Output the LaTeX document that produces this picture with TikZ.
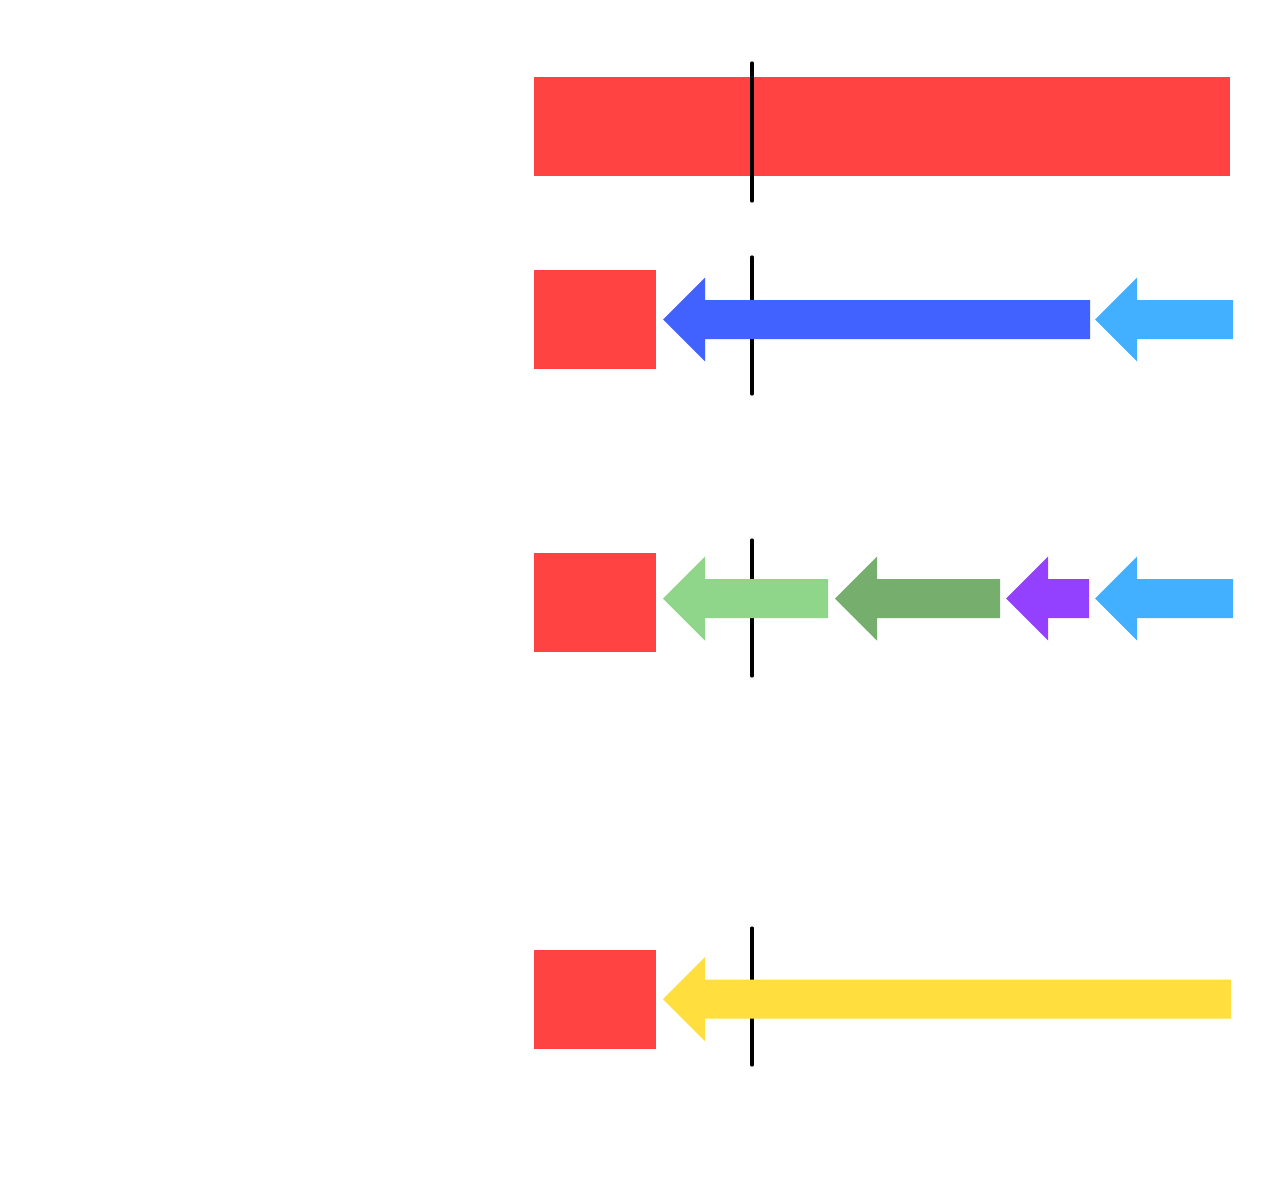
\documentclass[tikz,border=0pt]{standalone}
\definecolor{cred}{HTML}{FF4343}
\definecolor{cblue}{HTML}{4262FF}
\definecolor{csky}{HTML}{42B0FF}
\definecolor{clgreen}{HTML}{90D68A}
\definecolor{cdgreen}{HTML}{76AE6E}
\definecolor{cpurple}{HTML}{9340FF}
\definecolor{cyellow}{HTML}{FFDE3E}
\newcommand{\myarrow}[4]{% color, tip x, end x, center y
  \fill[#1] (#2,#4) -- ({#2+42},{#4-42}) -- ({#2+42},{#4-19.5}) -- (#3,{#4-19.5})
    -- (#3,{#4+19.5}) -- ({#2+42},{#4+19.5}) -- ({#2+42},{#4+42}) -- cycle;}
\tikzset{
  block/.style={fill=cred, draw=none},
  marker/.style={line width=3.2pt, line cap=round, black},
}
\begin{document}
\begin{tikzpicture}[x=1pt,y=-1pt]
\useasboundingbox (0,0) rectangle (1280,1200);
\fill[white] (0,0) rectangle (1280,1200);
% red blocks
\fill[block] (534,77) rectangle (1230,176);
\fill[block] (534,270) rectangle (656,369);
\fill[block] (534,553) rectangle (656,652);
\fill[block] (534,950) rectangle (656,1049);
% vertical markers
\coordinate (m1a) at (752,63); \coordinate (m1b) at (752,201);
\coordinate (m2a) at (752,257); \coordinate (m2b) at (752,394);
\coordinate (m3a) at (752,540); \coordinate (m3b) at (752,676);
\coordinate (m4a) at (752,928); \coordinate (m4b) at (752,1065);
\draw[marker] (m1a) -- (m1b);
\draw[marker] (m2a) -- (m2b);
\draw[marker] (m3a) -- (m3b);
\draw[marker] (m4a) -- (m4b);
% row 2 arrows
\myarrow{cblue}{663}{1090}{319.5}
\myarrow{csky}{1095}{1233}{319.5}
% row 3 arrows
\myarrow{clgreen}{663}{828}{598.5}
\myarrow{cdgreen}{835}{1000}{598.5}
\myarrow{cpurple}{1006}{1089}{598.5}
\myarrow{csky}{1095}{1233}{598.5}
% row 4 arrow
\myarrow{cyellow}{663}{1231}{999}
\end{tikzpicture}
\end{document}
